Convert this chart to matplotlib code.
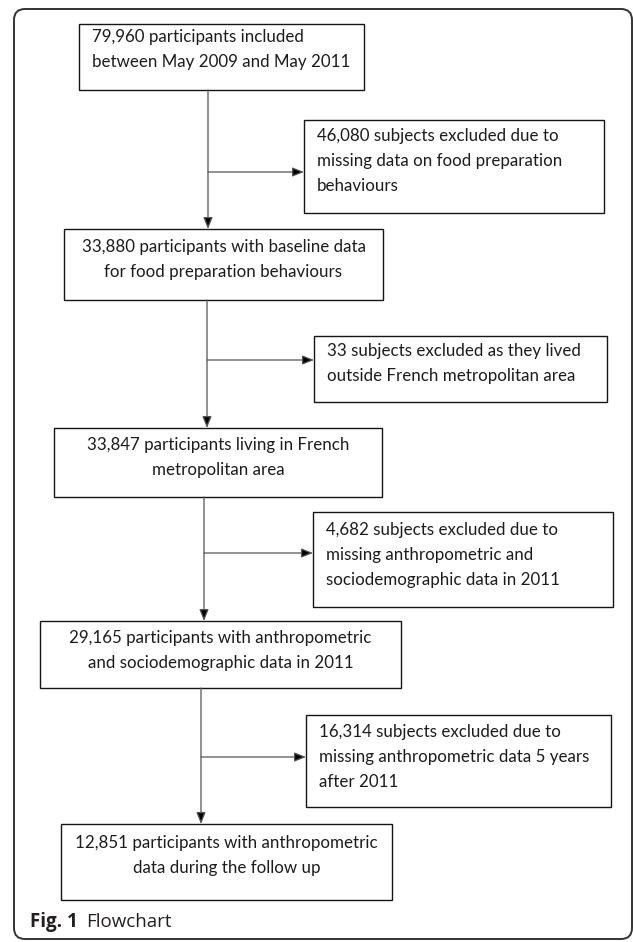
import matplotlib.pyplot as plt
from matplotlib.patches import FancyBboxPatch, Rectangle

# flowchart content
main_lines = [
    ["79,960 participants included", "between May 2009 and May 2011"],
    ["33,880 participants with baseline data", "for food preparation behaviours"],
    ["33,847 participants living in French", "metropolitan area"],
    ["29,165 participants with anthropometric", "and sociodemographic data in 2011"],
    ["12,851 participants with anthropometric", "data during the follow up"],
]
excl_lines = [
    ["46,080 subjects excluded due to", "missing data on food preparation", "behaviours"],
    ["33 subjects excluded as they lived", "outside French metropolitan area"],
    ["4,682 subjects excluded due to", "missing anthropometric and",
     "sociodemographic data in 2011"],
    ["16,314 subjects excluded due to", "missing anthropometric data 5 years",
     "after 2011"],
]

# layout in pixels (x0, y0, x1, y1), y down
main_box = [(79, 24, 364, 90), (64, 229, 383, 300), (54, 428, 382, 497),
            (40, 621, 401, 688), (61, 824, 392, 900)]
main_align = ['left', 'center', 'center', 'center', 'center']
main_first = [18, 23, 22, 22, 24]
excl_box = [(304, 120, 604, 213), (314, 336, 607, 402), (313, 512, 613, 607),
            (306, 715, 611, 807)]
excl_first = [21, 20, 23, 22]
trunk_x = [208, 207, 204, 201]
branch_y = [172, 360, 553, 757]
LINE = 25

W, H = 633, 942
fig = plt.figure(figsize=(W / 100, H / 100), dpi=100)
ax = fig.add_axes([0, 0, 1, 1])
ax.set_xlim(0, W)
ax.set_ylim(H, 0)
ax.axis('off')

FONT = 'Lato'
fs = 12.2
txtcol = '#1c1c1c'

# outer frame
frame = FancyBboxPatch((14, 9), 618, 930, boxstyle='round,pad=0,rounding_size=11',
                       fill=False, ec='#333333', lw=1.4)
ax.add_patch(frame)


def box(b, lines, align, first):
    x0, y0, x1, y1 = b
    ax.add_patch(Rectangle((x0, y0), x1 - x0, y1 - y0, fill=False,
                           ec='#151515', lw=1.0))
    for i, s in enumerate(lines):
        y = y0 + first + i * LINE
        if align == 'left':
            ax.text(x0 + 13, y, s, ha='left', va='baseline', fontsize=fs,
                    family=FONT, color=txtcol)
        else:
            ax.text((x0 + x1) / 2, y, s, ha='center', va='baseline',
                    fontsize=fs, family=FONT, color=txtcol)


for b, t, a, f in zip(main_box, main_lines, main_align, main_first):
    box(b, t, a, f)
for b, t, f in zip(excl_box, excl_lines, excl_first):
    box(b, t, 'left', f)

aprops = dict(arrowstyle='-|>,head_length=0.7,head_width=0.28',
              lw=0.9, shrinkA=0, shrinkB=0, fc='black', ec='#555555')
for i in range(4):
    x = trunk_x[i]
    ax.annotate('', xy=(x, main_box[i + 1][1]), xytext=(x, main_box[i][3]),
                arrowprops=aprops)
    ax.annotate('', xy=(excl_box[i][0], branch_y[i]), xytext=(x, branch_y[i]),
                arrowprops=aprops)

ax.text(30, 927, 'Fig. 1', fontsize=13.5, fontweight='bold', family='Open Sans',
        color='#231f20', va='baseline', ha='left')
ax.text(86, 927, 'Flowchart', fontsize=13.5, family='Open Sans',
        color='#231f20', va='baseline', ha='left')

fig.savefig('out.png', dpi=100)
